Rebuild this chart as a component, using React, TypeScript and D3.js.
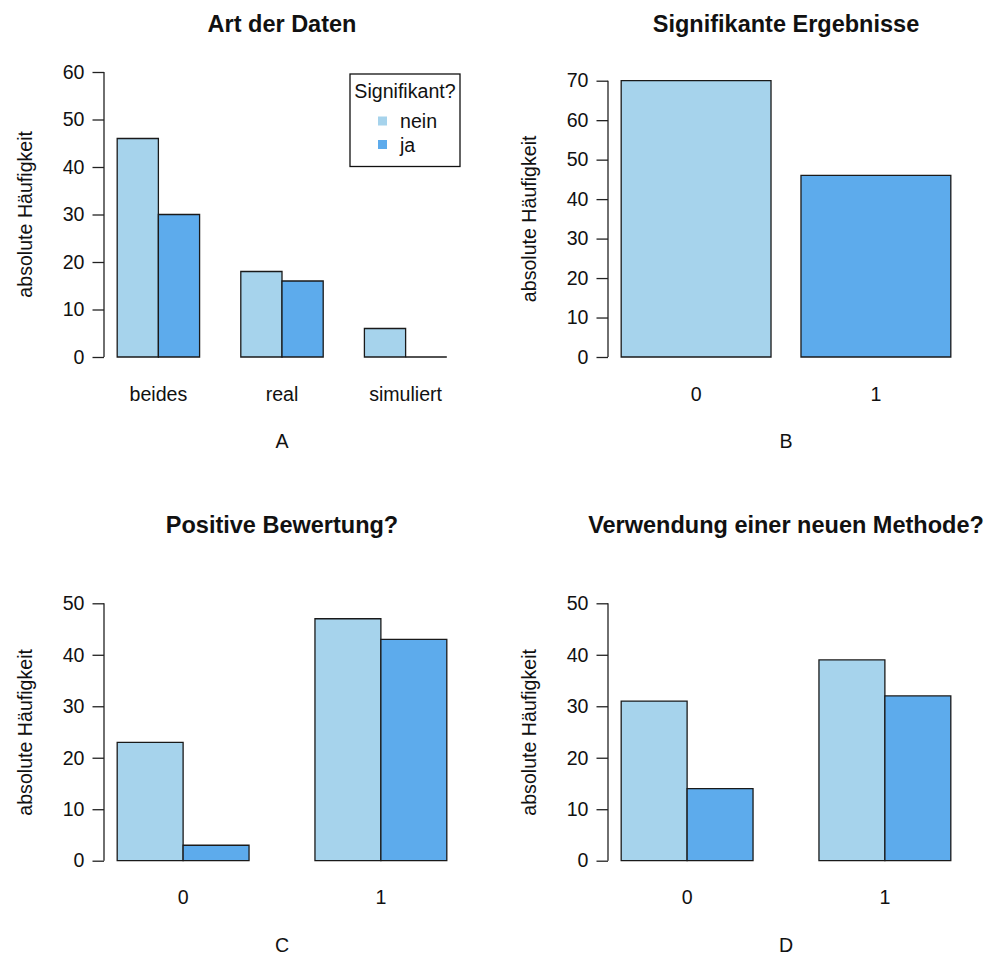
import { useRef, useEffect } from 'react';
import * as d3 from 'd3';

// Panel A: Art der Daten
const artCategories = ['beides', 'real', 'simuliert'];
const artNein = [46, 18, 6];
const artJa = [30, 16, 0];
const artTicks = [0, 10, 20, 30, 40, 50, 60];

// Panel B: Signifikante Ergebnisse
const sigCategories = ['0', '1'];
const sigCounts = [70, 46];
const sigTicks = [0, 10, 20, 30, 40, 50, 60, 70];

// Panel C: Positive Bewertung?
const posCategories = ['0', '1'];
const posNein = [23, 47];
const posJa = [3, 43];

// Panel D: Verwendung einer neuen Methode?
const methCategories = ['0', '1'];
const methNein = [31, 39];
const methJa = [14, 32];

const bottomTicks = [0, 10, 20, 30, 40, 50];

const legendTitle = 'Signifikant?';
const legendLabels = ['nein', 'ja'];

const LIGHT = '#a6d3ec';
const DARK = '#5dabec';
const FONT = 'Liberation Sans, Arial, Helvetica, sans-serif';

interface Panel {
  title: string;
  xlab: string;
  categories: string[];
  series: number[][]; // grouped: one array per fill; single: one array
  grouped: boolean;
  ticks: number[];
  left: number;
  right: number;
  y0: number;
  yTopPx: number;
  titleY: number;
  legend?: boolean;
}

const PANELS: Panel[] = [
  {
    title: 'Art der Daten', xlab: 'A', categories: artCategories, series: [artNein, artJa],
    grouped: true, ticks: artTicks, left: 104, right: 460, y0: 357, yTopPx: 72, titleY: 31.7, legend: true,
  },
  {
    title: 'Signifikante Ergebnisse', xlab: 'B', categories: sigCategories, series: [sigCounts],
    grouped: false, ticks: sigTicks, left: 608, right: 964, y0: 357, yTopPx: 80.7, titleY: 31.7,
  },
  {
    title: 'Positive Bewertung?', xlab: 'C', categories: posCategories, series: [posNein, posJa],
    grouped: true, ticks: bottomTicks, left: 104, right: 460, y0: 860.7, yTopPx: 603.3, titleY: 533.3,
  },
  {
    title: 'Verwendung einer neuen Methode?', xlab: 'D', categories: methCategories, series: [methNein, methJa],
    grouped: true, ticks: bottomTicks, left: 608, right: 964, y0: 860.7, yTopPx: 603.3, titleY: 533.3,
  },
];

export default function App() {
  const ref = useRef<SVGSVGElement>(null);

  useEffect(() => {
    if (!ref.current) return;
    const svg = d3.select(ref.current);
    svg.selectAll('*').remove();

    PANELS.forEach((p) => {
      const g = svg.append('g');
      const nGroups = p.categories.length;

      // bar layout in R barplot units
      type Bar = { l: number; r: number; v: number; fill: string; center: number };
      const bars: Bar[] = [];
      const centers: number[] = [];
      if (p.grouped) {
        const nb = p.series.length;
        p.categories.forEach((_, gi) => {
          const start = 1 + gi * (nb + 1);
          centers.push(start + nb / 2);
          p.series.forEach((s, si) => {
            bars.push({ l: start + si, r: start + si + 1, v: s[gi], fill: si === 0 ? LIGHT : DARK, center: 0 });
          });
        });
      } else {
        p.categories.forEach((_, gi) => {
          const l = 0.2 + gi * 1.2;
          centers.push(l + 0.5);
          bars.push({ l, r: l + 1, v: p.series[0][gi], fill: gi === 0 ? LIGHT : DARK, center: 0 });
        });
      }
      const lo = d3.min(bars, (b) => b.l)!;
      const hi = d3.max(bars, (b) => b.r)!;
      const ext = (hi - lo) * 0.04;
      const x = d3.scaleLinear().domain([lo - ext, hi + ext]).range([p.left, p.right]);
      const yMax = p.ticks[p.ticks.length - 1];
      const y = d3.scaleLinear().domain([0, yMax]).range([p.y0, p.yTopPx]);

      // bars
      g.selectAll('path.bar')
        .data(bars)
        .enter()
        .append('path')
        .attr('class', 'bar')
        .attr('d', (b) => `M${x(b.l)},${y(0)}V${y(b.v)}H${x(b.r)}V${y(0)}Z`)
        .attr('fill', (b) => b.fill)
        .attr('stroke', '#1a1a1a')
        .attr('stroke-width', 1.3);

      // y axis
      const axis = g.append('g')
        .attr('transform', `translate(${p.left},0)`)
        .call(d3.axisLeft(y).tickValues(p.ticks).tickSize(11.5).tickPadding(8).tickFormat((d) => String(d)));
      axis.select('.domain')
        .attr('d', `M0,${y(0)}V${y(yMax)}`)
        .attr('stroke', '#222')
        .attr('stroke-width', 1.3);
      axis.selectAll('.tick line').attr('stroke', '#222').attr('stroke-width', 1.3);
      axis.selectAll('.tick text')
        .attr('fill', '#111')
        .attr('font-size', 19.6)
        .attr('font-family', FONT);
      axis.attr('font-family', FONT);

      // category labels
      g.selectAll('text.cat')
        .data(p.categories)
        .enter()
        .append('text')
        .attr('class', 'cat')
        .attr('x', (_, i) => x(centers[i]))
        .attr('y', p.y0 + 43.5)
        .attr('text-anchor', 'middle')
        .attr('font-size', 19.6)
        .attr('font-family', FONT)
        .attr('fill', '#111')
        .text((d) => d);

      const cx = (p.left + p.right) / 2;

      // x label
      g.append('text')
        .attr('x', cx)
        .attr('y', p.y0 + 91)
        .attr('text-anchor', 'middle')
        .attr('font-size', 19.6)
        .attr('font-family', FONT)
        .attr('fill', '#111')
        .text(p.xlab);

      // y label
      const ylabX = p.left - 72.5;
      const ylabY = (p.y0 + 11 + p.yTopPx - (p.y0 - p.yTopPx) * 0.04) / 2;
      g.append('text')
        .attr('transform', `translate(${ylabX},${ylabY}) rotate(-90)`)
        .attr('text-anchor', 'middle')
        .attr('font-size', 19.6)
        .attr('font-family', FONT)
        .attr('fill', '#111')
        .text('absolute Häufigkeit');

      // title
      g.append('text')
        .attr('x', cx)
        .attr('y', p.titleY)
        .attr('text-anchor', 'middle')
        .attr('font-size', 23.5)
        .attr('font-weight', 'bold')
        .attr('font-family', FONT)
        .attr('fill', '#111')
        .text(p.title);

      // legend
      if (p.legend) {
        const lg = g.append('g').attr('transform', `translate(350,74)`);
        lg.append('rect')
          .attr('x', 0).attr('y', 0)
          .attr('width', 110).attr('height', 92.5)
          .attr('fill', 'white')
          .attr('stroke', '#111')
          .attr('stroke-width', 1.3);
        lg.append('text')
          .attr('x', 55).attr('y', 24.3)
          .attr('text-anchor', 'middle')
          .attr('font-size', 19.6)
          .attr('font-family', FONT)
          .attr('fill', '#111')
          .text(legendTitle);
        legendLabels.forEach((lab, i) => {
          lg.append('rect')
            .attr('x', 28).attr('y', 42.5 + i * 23.5)
            .attr('width', 9).attr('height', 9)
            .attr('fill', i === 0 ? LIGHT : DARK);
          lg.append('text')
            .attr('x', 50).attr('y', 54 + i * 23.5)
            .attr('font-size', 19.6)
            .attr('font-family', FONT)
            .attr('fill', '#111')
            .text(lab);
        });
      }
      void nGroups;
    });
  }, []);

  return (
    <svg
      ref={ref}
      width={988}
      height={956}
      style={{ position: 'absolute', left: 0, top: 0, background: 'white' }}
    />
  );
}
